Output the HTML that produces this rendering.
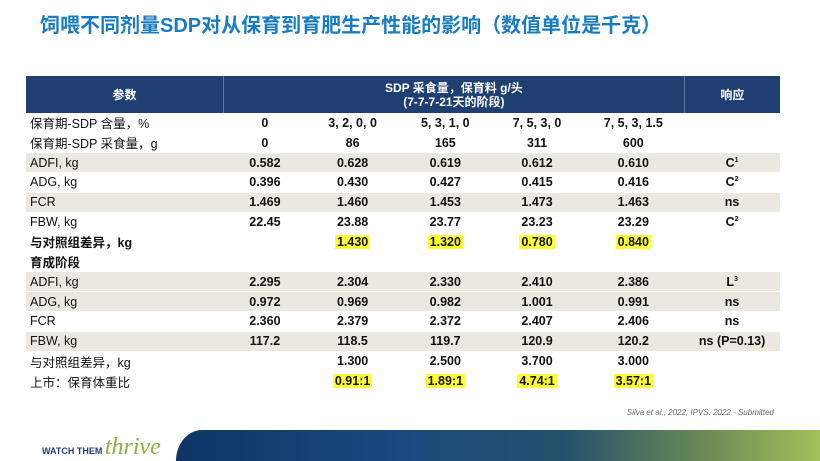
<!DOCTYPE html>
<html><head><meta charset="utf-8"><style>
*{margin:0;padding:0;box-sizing:border-box}
body{width:820px;height:461px;background:#fff;position:relative;overflow:hidden;font-family:"Liberation Sans","Noto Sans CJK SC",sans-serif}
#title{position:absolute;left:40px;top:9px;font-size:20px;font-weight:bold;color:#1a7cc0;white-space:nowrap}
table{position:absolute;left:26px;top:76px;width:754px;border-collapse:collapse;font-size:12.5px;color:#111}
th{background:#1f3f72;color:#fff;font-size:12px;font-weight:bold;height:37px;border-right:1px solid #5a77a4;text-align:center;line-height:14px}
td{height:19.8px;text-align:center;font-weight:bold;padding:0;border-bottom:1px solid #fff}
td.l{text-align:left;padding-left:4px;font-weight:normal}
td.lb{text-align:left;padding-left:4px;font-weight:bold}
tr.s td{background:#ebe9df}
.y{background:#ffff33;padding:0 2px}
#cite{position:absolute;right:46px;top:408px;font-size:8px;font-style:italic;color:#666}
#banner{position:absolute;left:176px;top:430px;width:644px;height:31px;border-top-left-radius:26px 31px;background:linear-gradient(90deg,#0f3565 0%,#1a4a7e 35%,#24506b 60%,#6a8a55 82%,#a4c05a 100%)}
#logo{position:absolute;left:42px;top:434px;font-size:9px;font-weight:bold;color:#1f3f72;white-space:nowrap}
#logo i{font-family:"Liberation Serif",serif;font-size:24px;color:#8db040;font-weight:normal}
</style></head><body>
<div id="title">饲喂不同剂量SDP对从保育到育肥生产性能的影响（数值单位是千克）</div>
<table>
<colgroup><col style="width:196px"><col style="width:82px"><col style="width:92px"><col style="width:92px"><col style="width:90px"><col style="width:101px"><col style="width:95px"></colgroup>
<tr><th>参数</th><th colspan="5">SDP 采食量，保育料 g/头<br>(7-7-7-21天的阶段)</th><th style="border-right:none">响应</th></tr>
<tr><td class="l">保育期-SDP 含量，%</td><td>0</td><td>3, 2, 0, 0</td><td>5, 3, 1, 0</td><td>7, 5, 3, 0</td><td>7, 5, 3, 1.5</td><td></td></tr>
<tr><td class="l">保育期-SDP 采食量，g</td><td>0</td><td>86</td><td>165</td><td>311</td><td>600</td><td></td></tr>
<tr class="s"><td class="l">ADFI, kg</td><td>0.582</td><td>0.628</td><td>0.619</td><td>0.612</td><td>0.610</td><td>C<sup style="font-size:7px">1</sup></td></tr>
<tr><td class="l">ADG, kg</td><td>0.396</td><td>0.430</td><td>0.427</td><td>0.415</td><td>0.416</td><td>C<sup style="font-size:7px">2</sup></td></tr>
<tr class="s"><td class="l">FCR</td><td>1.469</td><td>1.460</td><td>1.453</td><td>1.473</td><td>1.463</td><td>ns</td></tr>
<tr><td class="l">FBW, kg</td><td>22.45</td><td>23.88</td><td>23.77</td><td>23.23</td><td>23.29</td><td>C<sup style="font-size:7px">2</sup></td></tr>
<tr><td class="lb">与对照组差异，kg</td><td></td><td><span class="y">1.430</span></td><td><span class="y">1.320</span></td><td><span class="y">0.780</span></td><td><span class="y">0.840</span></td><td></td></tr>
<tr><td class="lb">育成阶段</td><td></td><td></td><td></td><td></td><td></td><td></td></tr>
<tr class="s"><td class="l">ADFI, kg</td><td>2.295</td><td>2.304</td><td>2.330</td><td>2.410</td><td>2.386</td><td>L<sup style="font-size:7px">3</sup></td></tr>
<tr class="s"><td class="l">ADG, kg</td><td>0.972</td><td>0.969</td><td>0.982</td><td>1.001</td><td>0.991</td><td>ns</td></tr>
<tr><td class="l">FCR</td><td>2.360</td><td>2.379</td><td>2.372</td><td>2.407</td><td>2.406</td><td>ns</td></tr>
<tr class="s"><td class="l">FBW, kg</td><td>117.2</td><td>118.5</td><td>119.7</td><td>120.9</td><td>120.2</td><td>ns (P=0.13)</td></tr>
<tr><td class="l">与对照组差异，kg</td><td></td><td>1.300</td><td>2.500</td><td>3.700</td><td>3.000</td><td></td></tr>
<tr><td class="l">上市：保育体重比</td><td></td><td><span class="y">0.91:1</span></td><td><span class="y">1.89:1</span></td><td><span class="y">4.74:1</span></td><td><span class="y">3.57:1</span></td><td></td></tr>
</table>
<div id="cite">Silva et al., 2022, IPVS. 2022 - Submitted</div>
<div id="logo">WATCH THEM <i>thrive</i></div>
<div id="banner"></div>
</body></html>
